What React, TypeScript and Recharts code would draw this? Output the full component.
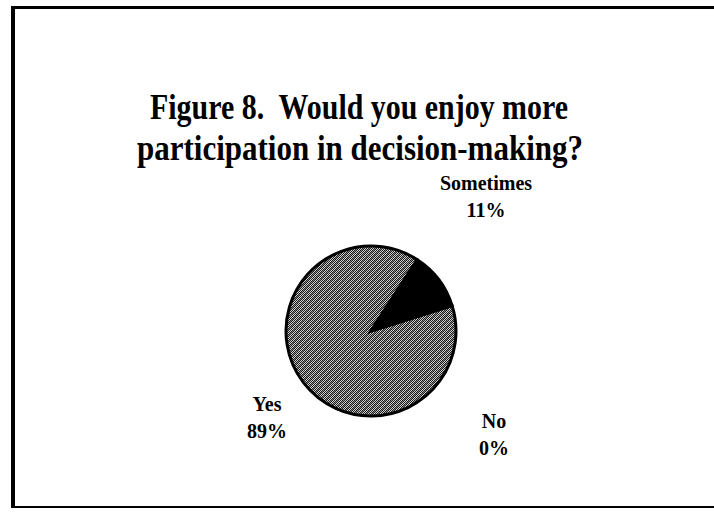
import React from "react";
import { PieChart, Pie, Cell } from "recharts";

const categories = ["Yes", "No", "Sometimes"];
const percentages = [89, 0, 11];
const titleLines = ["Figure 8.\u00a0 Would you enjoy more", "participation in decision-making?"];

const data = categories.map((name, i) => ({ name, value: percentages[i] }));

const FILLS: Record<string, string> = {
  Yes: "url(#halftone)",
  No: "#ffffff",
  Sometimes: "#000000",
};

// label placement (style config, relative to pie centre)
const LABEL_OFFSET: Record<string, [number, number]> = {
  Sometimes: [115, -141],
  Yes: [-104, 80],
  No: [123, 97],
};

const FONT = "'Liberation Serif', 'Times New Roman', serif";

const renderLabel = (props: any) => {
  const { cx, cy, name, value } = props;
  const off = LABEL_OFFSET[name] || [0, 0];
  const x = cx + off[0];
  const y = cy + off[1];
  return (
    <text
      x={x}
      y={y}
      textAnchor="middle"
      fontFamily={FONT}
      fontWeight="bold"
      fontSize={20}
      fill="#000"
    >
      <tspan x={x} y={y}>{name}</tspan>
      <tspan x={x} y={y + 27}>{`${value}%`}</tspan>
    </text>
  );
};

const checker: Array<[number, number]> = [];
for (let y = 0; y < 6; y++) {
  for (let x = 0; x < 6; x++) {
    if ((x + y) % 2 === 0) checker.push([x, y]);
  }
}

export default function App() {
  return (
    <div style={{ position: "absolute", left: 0, top: 0, width: 714, height: 514, background: "#fff", overflow: "hidden" }}>
      <svg width={0} height={0} style={{ position: "absolute" }}>
        <defs>
          <pattern id="halftone" patternUnits="userSpaceOnUse" width={6} height={6}>
            <rect x={0} y={0} width={6} height={6} fill="#d4d4d4" />
            {checker.map(([x, y]) => (
              <rect key={`${x}-${y}`} x={x} y={y} width={1} height={1} fill="#1a1a1a" />
            ))}
            <path d="M0 6 L6 0" stroke="#555" strokeWidth={0.6} />
          </pattern>
        </defs>
      </svg>
      <div
        style={{
          position: "absolute",
          left: 11,
          top: 6,
          width: 720,
          height: 502,
          borderLeft: "4px solid #000",
          borderTop: "3px solid #000",
          borderBottom: "2px solid #000",
          boxSizing: "border-box",
        }}
      />
      <div style={{ position: "absolute", left: 0, top: 0 }}>
        <PieChart width={714} height={514}>
          <Pie
            data={data}
            dataKey="value"
            nameKey="name"
            cx={366}
            cy={326}
            outerRadius={85}
            startAngle={57}
            endAngle={417}
            stroke="#000"
            strokeWidth={3}
            label={renderLabel}
            labelLine={false}
            isAnimationActive={false}
          >
            {data.map((d) => (
              <Cell key={d.name} fill={FILLS[d.name]} />
            ))}
          </Pie>
        </PieChart>
      </div>
      <svg width={714} height={514} style={{ position: "absolute", left: 0, top: 0, pointerEvents: "none" }}>
        <text x={359} y={119} textAnchor="middle" fontFamily={FONT} fontWeight="bold" fontSize={35} textLength={418} lengthAdjust="spacingAndGlyphs" fill="#000">
          {titleLines[0]}
        </text>
        <text x={360} y={160} textAnchor="middle" fontFamily={FONT} fontWeight="bold" fontSize={35} textLength={446} lengthAdjust="spacingAndGlyphs" fill="#000">
          {titleLines[1]}
        </text>
      </svg>
    </div>
  );
}
